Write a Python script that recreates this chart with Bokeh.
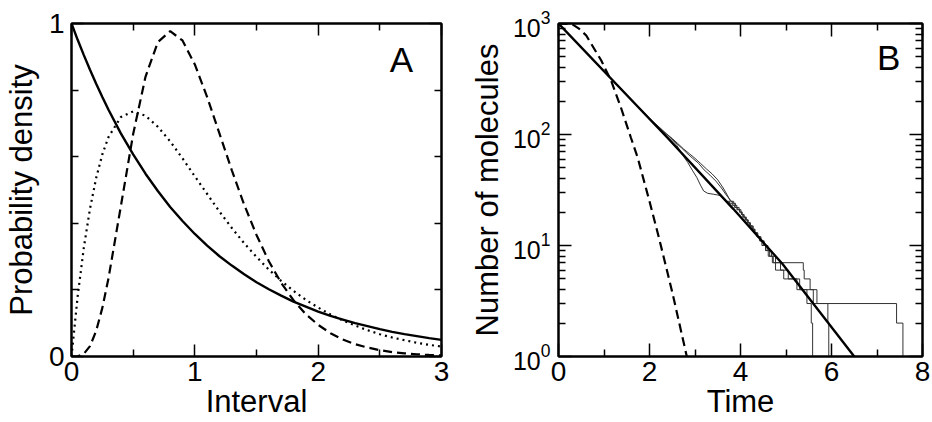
from bokeh.plotting import figure
from bokeh.layouts import row
from bokeh.models import Range1d, FixedTicker, LinearAxis, LogAxis, Label, CustomLabelingPolicy
from bokeh.embed import file_html
from bokeh.resources import INLINE

# ---------------- Panel A data ----------------
interval = [0.0, 0.05, 0.1, 0.15, 0.2, 0.25, 0.3, 0.4, 0.5, 0.6, 0.7, 0.8, 0.9, 1.0,
            1.1, 1.2, 1.3, 1.4, 1.5, 1.6, 1.7, 1.8, 1.9, 2.0, 2.1, 2.2, 2.3, 2.4,
            2.5, 2.6, 2.7, 2.8, 2.9, 3.0]
density_solid = [1.000, 0.951, 0.905, 0.861, 0.819, 0.779, 0.741, 0.670, 0.607, 0.549,
                 0.497, 0.449, 0.407, 0.368, 0.333, 0.301, 0.273, 0.247, 0.223, 0.202,
                 0.183, 0.165, 0.150, 0.135, 0.122, 0.111, 0.100, 0.091, 0.082, 0.074,
                 0.067, 0.061, 0.055, 0.050]
density_dotted = [0.0, 0.181, 0.327, 0.444, 0.536, 0.607, 0.659, 0.719, 0.736, 0.723,
                  0.690, 0.646, 0.595, 0.541, 0.488, 0.435, 0.386, 0.340, 0.299, 0.261,
                  0.227, 0.197, 0.170, 0.147, 0.126, 0.108, 0.093, 0.079, 0.067, 0.057,
                  0.049, 0.041, 0.035, 0.030]
density_dashed = [0.0, 0.0006, 0.0079, 0.031, 0.077, 0.146, 0.235, 0.451, 0.668, 0.840,
                  0.944, 0.977, 0.949, 0.877, 0.779, 0.669, 0.559, 0.456, 0.365, 0.286,
                  0.221, 0.169, 0.127, 0.095, 0.070, 0.051, 0.037, 0.027, 0.019, 0.013,
                  0.0095, 0.0067, 0.0046, 0.0032]
a_xticks = [0, 1, 2, 3]
a_xminor = [0.5, 1.5, 2.5]
a_yticks = [0, 1]
a_yminor = [0.2, 0.4, 0.6, 0.8]

# ---------------- Panel B data ----------------
time_solid = [0.0, 2.4, 3.84, 4.92, 6.5]
n_solid = [1000, 93, 21.4, 6.84, 1.0]

time_dashed = [0.0, 0.3, 0.45, 0.61, 0.94, 1.155, 1.37, 1.59, 1.74, 2.0, 2.22, 2.5, 2.82]
n_dashed = [1000, 985, 900, 780, 464, 306, 176, 94, 62, 25, 11.2, 3.8, 1.0]

run1_t = [0, 0.25, 0.5, 0.75, 1.0, 1.25, 1.5, 1.75, 2.0, 2.12, 2.25, 2.38, 2.5, 2.62,
          2.75, 2.88, 3.0, 3.12, 3.25, 3.38, 3.5, 3.62, 3.72, 3.78]
run1_n = [1000, 783, 612, 478, 374, 292, 228, 179, 140, 126, 113, 101, 92, 83,
          74, 67, 61, 55, 49, 44, 39, 33, 28, 25]
run1_step_t = [3.78, 3.82, 3.86, 3.90, 3.94, 3.98, 4.02, 4.05, 4.10, 4.15, 4.20, 4.26,
               4.32, 4.38, 4.45, 4.52, 4.60, 4.68, 4.77, 5.38, 5.40, 5.53, 5.68, 7.43, 7.57]
run1_step_n = [25, 24, 23, 22, 21, 20, 19, 18, 17, 16, 15, 14, 13, 12, 11, 10, 9, 8, 7,
               6, 5, 4, 3, 2, 1]

run2_t = [0, 0.25, 0.5, 0.75, 1.0, 1.25, 1.5, 1.75, 2.0, 2.1, 2.2, 2.32, 2.45, 2.58,
          2.7, 2.82, 2.95, 3.08, 3.2, 3.33, 3.46, 3.58, 3.7, 3.8]
run2_n = [1000, 781, 608, 476, 371, 291, 226, 177, 138, 127, 117, 105, 95, 84,
          76, 68, 61, 55, 48, 43, 38, 33, 28, 25]
run2_step_t = [3.80, 3.85, 3.89, 3.92, 3.97, 4.01, 4.04, 4.08, 4.13, 4.17, 4.22, 4.28,
               4.31, 4.36, 4.42, 4.47, 4.55, 4.64, 4.70, 4.77, 4.95, 5.24, 5.46, 5.555, 5.585]
run2_step_n = [25, 24, 23, 22, 21, 20, 19, 18, 17, 16, 15, 14, 13, 12, 11, 10, 9, 8, 7,
               6, 5, 4, 3, 2, 1]

run3_t = [0, 0.25, 0.5, 0.75, 1.0, 1.25, 1.5, 1.75, 2.0, 2.15, 2.3, 2.45, 2.6, 2.72,
          2.84, 2.95, 3.04, 3.12, 3.19, 3.28, 3.4, 3.5, 3.58, 3.65, 3.7]
run3_n = [1000, 779, 610, 474, 372, 289, 227, 178, 137, 120, 105, 92, 80, 66,
          56, 47, 41, 35, 31, 29.5, 29, 28.5, 28, 26, 25]
run3_step_t = [3.70, 3.76, 3.82, 3.87, 3.92, 3.98, 4.02, 4.07, 4.11, 4.16, 4.21, 4.25,
               4.30, 4.37, 4.43, 4.50, 4.56, 4.61, 4.72, 4.88, 5.05, 5.30, 5.60, 5.92, 5.94]
run3_step_n = [25, 24, 23, 22, 21, 20, 19, 18, 17, 16, 15, 14, 13, 12, 11, 10, 9, 8, 7,
               6, 5, 4, 3, 2, 1]

b_xticks = [0, 2, 4, 6, 8]
b_xminor = [1, 3, 5, 7]
b_yticks = [1, 10, 100, 1000]
b_yminor = [2, 3, 4, 5, 6, 7, 8, 9, 20, 30, 40, 50, 60, 70, 80, 90,
            200, 300, 400, 500, 600, 700, 800, 900]

FONT = "Liberation Sans"
NO_LABELS = "for (const i of indices) indices.unset(i)\nreturn indices"


def style_axis(ax, major_in, minor_in, label_size=None, standoff=6):
    ax.axis_line_color = "black"
    ax.axis_line_width = 2
    ax.major_tick_in = major_in
    ax.major_tick_out = 0
    ax.minor_tick_in = minor_in
    ax.minor_tick_out = 0
    ax.major_tick_line_color = "black"
    ax.minor_tick_line_color = "black"
    ax.major_tick_line_width = 1.5
    ax.minor_tick_line_width = 1.5
    ax.major_label_text_font = FONT
    ax.major_label_text_color = "black"
    ax.axis_label_text_font = FONT
    ax.axis_label_text_font_style = "normal"
    ax.axis_label_text_color = "black"
    if label_size is None:
        ax.major_label_policy = CustomLabelingPolicy(code=NO_LABELS)
        ax.major_label_standoff = 0
        ax.major_label_text_font_size = "1px"
    else:
        ax.major_label_text_font_size = label_size
        ax.major_label_standoff = standoff


def base_fig(**kw):
    p = figure(output_backend="svg", toolbar_location=None, **kw)
    p.xgrid.grid_line_color = None
    p.ygrid.grid_line_color = None
    p.outline_line_color = "black"
    p.outline_line_width = 2
    p.background_fill_color = "white"
    p.border_fill_color = "white"
    return p


# ---------------- Panel A ----------------
pA = base_fig(width=466, height=421, x_range=Range1d(0, 3), y_range=Range1d(0, 1),
              min_border_left=70, min_border_right=25, min_border_top=23, min_border_bottom=65)
xt_a = FixedTicker(ticks=a_xticks, minor_ticks=a_xminor)
yt_a = FixedTicker(ticks=a_yticks, minor_ticks=a_yminor)
pA.xaxis.ticker = xt_a
pA.yaxis.ticker = yt_a
style_axis(pA.xaxis[0], 12, 7, "28px", 5)
style_axis(pA.yaxis[0], 12, 7, "28px", 7)
pA.xaxis.axis_label = "Interval"
pA.yaxis.axis_label = "Probability density"
pA.xaxis.axis_label_text_font_size = "31px"
pA.yaxis.axis_label_text_font_size = "31px"
pA.xaxis.axis_label_standoff = 0
pA.yaxis.axis_label_standoff = 7
ax_top = LinearAxis(ticker=xt_a)
style_axis(ax_top, 12, 7)
pA.add_layout(ax_top, "above")
ax_right = LinearAxis(ticker=yt_a)
style_axis(ax_right, 12, 7)
pA.add_layout(ax_right, "right")

pA.line(interval, density_dotted, line_color="black", line_width=2.2, line_dash="2 4")
pA.line(interval, density_dashed, line_color="black", line_width=2.2, line_dash="9 5")
pA.line(interval, density_solid, line_color="black", line_width=2.4)
pA.add_layout(Label(x=2.58, y=0.892, text="A", text_font=FONT, text_font_size="35px",
                    text_color="black", text_baseline="alphabetic"))

# ---------------- Panel B ----------------
pB = base_fig(width=465, height=421, x_range=Range1d(0, 8), y_range=Range1d(1, 1000),
              y_axis_type="log",
              min_border_left=87, min_border_right=9, min_border_top=23, min_border_bottom=65)
xt_b = FixedTicker(ticks=b_xticks, minor_ticks=b_xminor)
yt_b = FixedTicker(ticks=b_yticks, minor_ticks=b_yminor)
pB.xaxis.ticker = xt_b
pB.yaxis.ticker = yt_b
style_axis(pB.xaxis[0], 13, 7, "28px", 5)
style_axis(pB.yaxis[0], 13, 7, "25px", 8)
pB.xaxis.axis_label = "Time"
pB.yaxis.axis_label = "Number of molecules"
pB.xaxis.axis_label_text_font_size = "31px"
pB.yaxis.axis_label_text_font_size = "31px"
pB.xaxis.axis_label_standoff = 0
pB.yaxis.axis_label_standoff = 5
bx_top = LinearAxis(ticker=xt_b)
style_axis(bx_top, 13, 7)
pB.add_layout(bx_top, "above")
by_right = LogAxis(ticker=yt_b)
style_axis(by_right, 13, 7)
pB.add_layout(by_right, "right")

for tt, nn, st, sn in [(run1_t, run1_n, run1_step_t, run1_step_n),
                       (run2_t, run2_n, run2_step_t, run2_step_n),
                       (run3_t, run3_n, run3_step_t, run3_step_n)]:
    pB.line(tt, nn, line_color="#333333", line_width=1)
    pB.step(st, sn, mode="after", line_color="#333333", line_width=1)

pB.line(time_dashed, n_dashed, line_color="black", line_width=2.2, line_dash="9 5")
pB.line(time_solid, n_solid, line_color="black", line_width=2.4)
pB.add_layout(Label(x=7.0, y=495, text="B", text_font=FONT, text_font_size="35px",
                    text_color="black", text_baseline="alphabetic"))

layout = row(pA, pB)
open("out.html", "w").write(file_html(layout, INLINE))
